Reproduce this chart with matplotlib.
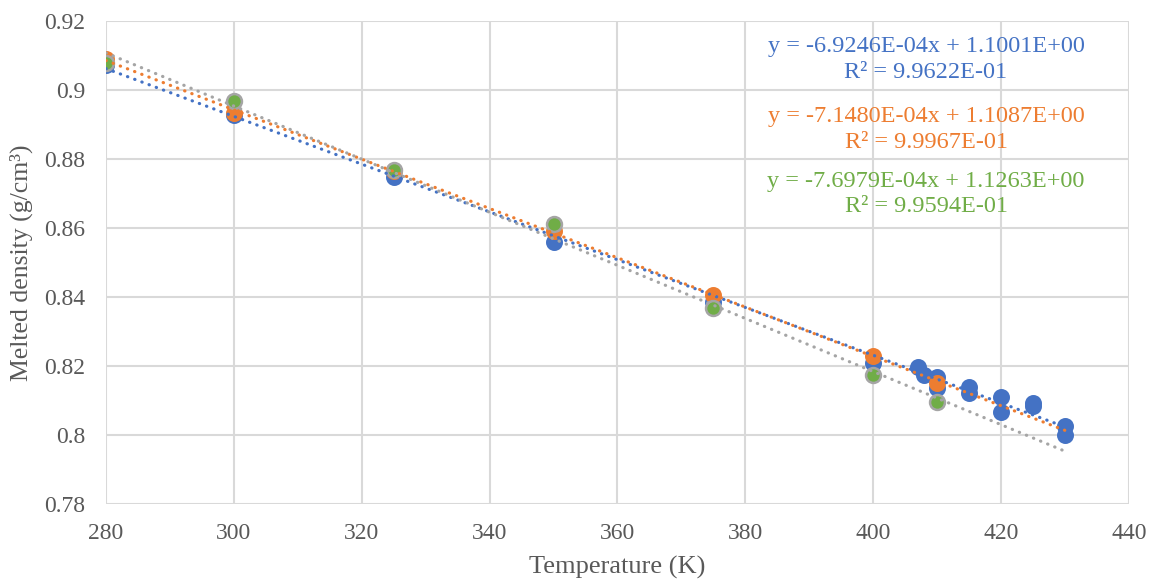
import numpy as np
import matplotlib
matplotlib.use("Agg")
import matplotlib.pyplot as plt
from matplotlib.ticker import FuncFormatter

# data
blue_t = [280, 300, 325, 350, 375, 400, 407, 408, 410, 410, 415, 415, 420, 420, 425, 425, 430, 430]
blue_d = [0.9072, 0.8928, 0.8748, 0.8560, 0.8386, 0.8209, 0.8197, 0.8174, 0.8168, 0.8136,
          0.8139, 0.8122, 0.8110, 0.8067, 0.8093, 0.8083, 0.8026, 0.8000]
orange_t = [280, 300, 325, 350, 375, 400, 410]
orange_d = [0.9090, 0.8933, 0.8764, 0.8590, 0.8407, 0.8229, 0.8152]
green_t = [280, 300, 325, 350, 375, 400, 410]
green_d = [0.9078, 0.8968, 0.8768, 0.8613, 0.8367, 0.8174, 0.8096]

# trendline coefficients (slope, intercept) as printed on the chart
blue_fit = (-6.9246e-04, 1.1001)
orange_fit = (-7.1480e-04, 1.1087)
green_fit = (-7.6979e-04, 1.1263)
fit_range = [280, 430]

labels = [
    ("y = -6.9246E-04x + 1.1001E+00\nR\u00b2 = 9.9622E-01", "#4472C4"),
    ("y = -7.1480E-04x + 1.1087E+00\nR\u00b2 = 9.9967E-01", "#ED7D31"),
    ("y = -7.6979E-04x + 1.1263E+00\nR\u00b2 = 9.9594E-01", "#70AD47"),
]

plt.rcParams["font.family"] = ["Liberation Serif", "DejaVu Serif"]

fig = plt.figure(figsize=(11.49, 5.82), dpi=100)
ax = fig.add_axes([0.0922, 0.134, 0.8904, 0.8299])

ax.scatter(blue_t, blue_d, s=115, color="#4472C4", edgecolors="#4472C4", linewidths=1.5, zorder=3)
ax.scatter(orange_t, orange_d, s=115, color="#ED7D31", edgecolors="#ED7D31", linewidths=1.5, zorder=4)
ax.scatter(green_t, green_d, s=115, color="#70AD47", edgecolors="#A5A5A5", linewidths=1.8, zorder=5)

xs = np.array(fit_range, dtype=float)
for (m, b), c in [(blue_fit, "#4472C4"), (orange_fit, "#ED7D31"), (green_fit, "#A5A5A5")]:
    ax.plot(xs, m * xs + b, color=c, linewidth=2.3, linestyle=(0, (0.1, 2.3)),
            dash_capstyle="round", zorder=6)

ax.set_xlim(280, 440)
ax.set_ylim(0.78, 0.92)
ax.set_xticks(np.arange(280, 441, 20))
ax.set_yticks(np.arange(0.78, 0.9201, 0.02))
ax.yaxis.set_major_formatter(FuncFormatter(lambda v, p: "%g" % round(v, 2)))
ax.grid(True, color="#D9D9D9", linewidth=1.5, zorder=0)
ax.set_axisbelow(True)
for s in ax.spines.values():
    s.set_visible(False)
ax.tick_params(length=0, labelsize=17, colors="#595959")
ax.tick_params(axis="x", pad=14)
ax.tick_params(axis="y", pad=15)

ax.set_xlabel("Temperature (K)", fontsize=19, color="#595959", labelpad=8)
ax.set_ylabel("Melted density (g/cm\u00b3)", fontsize=18.5, color="#595959", labelpad=8)

for (txt, c), yy in zip(labels, [0.921, 0.776, 0.642]):
    ax.text(0.8016, yy, txt, transform=ax.transAxes, ha="center", va="center",
            multialignment="center", fontsize=17.5, color=c, linespacing=1.3)

fig.savefig("out.png", dpi=100)
